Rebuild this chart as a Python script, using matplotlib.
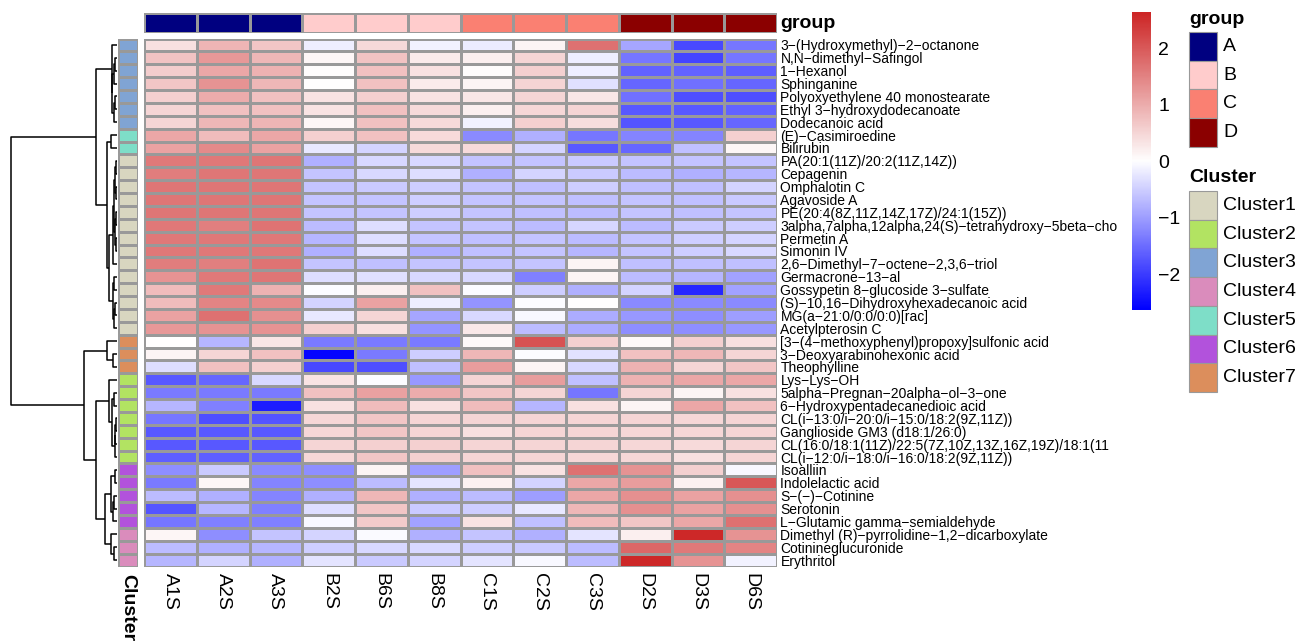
import matplotlib
matplotlib.use("Agg")
import matplotlib.pyplot as plt
from matplotlib.colors import LinearSegmentedColormap, Normalize, ListedColormap
from matplotlib.patches import Rectangle
import numpy as np

plt.rcParams['font.family'] = ['Liberation Sans', 'DejaVu Sans']

# ---------------- data ----------------
samples = ["A1S", "A2S", "A3S", "B2S", "B6S", "B8S",
           "C1S", "C2S", "C3S", "D2S", "D3S", "D6S"]
sample_group = ["A", "A", "A", "B", "B", "B", "C", "C", "C", "D", "D", "D"]

metabolites = [
    "3-(Hydroxymethyl)-2-octanone", "N,N-dimethyl-Safingol", "1-Hexanol", "Sphinganine",
    "Polyoxyethylene 40 monostearate", "Ethyl 3-hydroxydodecanoate", "Dodecanoic acid",
    "(E)-Casimiroedine", "Bilirubin", "PA(20:1(11Z)/20:2(11Z,14Z))", "Cepagenin",
    "Omphalotin C", "Agavoside A", "PE(20:4(8Z,11Z,14Z,17Z)/24:1(15Z))",
    "3alpha,7alpha,12alpha,24(S)-tetrahydroxy-5beta-cho", "Permetin A", "Simonin IV",
    "2,6-Dimethyl-7-octene-2,3,6-triol", "Germacrone-13-al",
    "Gossypetin 8-glucoside 3-sulfate", "(S)-10,16-Dihydroxyhexadecanoic acid",
    "MG(a-21:0/0:0/0:0)[rac]", "Acetylpterosin C",
    "[3-(4-methoxyphenyl)propoxy]sulfonic acid", "3-Deoxyarabinohexonic acid",
    "Theophylline", "Lys-Lys-OH", "5alpha-Pregnan-20alpha-ol-3-one",
    "6-Hydroxypentadecanedioic acid", "CL(i-13:0/i-20:0/i-15:0/18:2(9Z,11Z))",
    "Ganglioside GM3 (d18:1/26:0)", "CL(16:0/18:1(11Z)/22:5(7Z,10Z,13Z,16Z,19Z)/18:1(11",
    "CL(i-12:0/i-18:0/i-16:0/18:2(9Z,11Z))", "Isoalliin", "Indolelactic acid",
    "S-(-)-Cotinine", "Serotonin", "L-Glutamic gamma-semialdehyde",
    "Dimethyl (R)-pyrrolidine-1,2-dicarboxylate", "Cotinineglucuronide", "Erythritol",
]
metabolite_cluster = ([3] * 7 + [5] * 2 + [1] * 14 + [7] * 3 + [2] * 7 + [6] * 5 + [4] * 3)

zscores = [
    [0.43, 0.94, 0.73, -0.13, 0.51, -0.09, -0.15, 0.18, 1.77, -0.87, -1.84, -1.38],
    [0.77, 1.28, 0.92, 0.15, 0.77, 0.28, 0.24, 0.55, -0.13, -1.38, -1.89, -1.38],
    [0.65, 1.10, 0.98, 0.08, 0.79, 0.40, 0.08, 0.61, -0.13, -1.58, -1.58, -1.63],
    [0.73, 1.34, 0.92, 0.04, 0.79, 0.28, 0.18, 0.57, -0.28, -1.53, -1.43, -1.53],
    [0.61, 1.04, 0.79, 0.37, 0.61, 0.37, 0.33, 0.55, 0.33, -1.43, -1.79, -1.79],
    [0.55, 0.79, 0.79, 0.37, 0.79, 0.49, 0.24, 0.52, 0.57, -1.68, -1.68, -1.58],
    [0.55, 0.92, 0.94, 0.15, 0.79, 0.49, -0.10, 0.61, 0.45, -1.73, -1.68, -1.53],
    [1.10, 0.85, 1.10, 0.61, 0.79, 0.49, -1.17, -0.77, -1.38, -1.22, -1.22, 0.61],
    [1.16, 1.46, 1.16, -0.19, -0.41, 0.49, 0.49, -0.41, -1.68, -1.53, -0.61, 0.15],
    [1.65, 1.67, 1.71, -0.77, -0.36, -0.36, -0.56, -0.56, -0.51, -0.56, -0.56, -0.56],
    [1.62, 1.71, 1.71, -0.56, -0.36, -0.31, -0.77, -0.41, -0.51, -0.66, -0.77, -0.71],
    [1.71, 1.71, 1.71, -0.56, -0.51, -0.46, -0.56, -0.61, -0.46, -0.61, -0.61, -0.41],
    [1.71, 1.71, 1.71, -0.56, -0.56, -0.46, -0.56, -0.56, -0.61, -0.56, -0.61, -0.51],
    [1.70, 1.70, 1.70, -0.56, -0.56, -0.46, -0.56, -0.61, -0.66, -0.56, -0.61, -0.56],
    [1.67, 1.59, 1.74, -0.66, -0.31, -0.56, -0.56, -0.66, -0.38, -0.66, -0.51, -0.46],
    [1.67, 1.67, 1.67, -0.71, -0.31, -0.56, -0.61, -0.56, -0.66, -0.56, -0.46, -0.41],
    [1.67, 1.67, 1.67, -0.77, -0.31, -0.77, -0.61, -0.56, -0.71, -0.56, -0.46, -0.36],
    [1.62, 1.59, 1.74, -0.56, -0.61, -0.56, -0.56, -0.56, 0.18, -0.61, -0.61, -0.61],
    [1.34, 1.65, 1.71, -0.31, -0.28, -0.36, -0.36, -1.28, 0.18, -0.66, -0.71, -0.92],
    [0.85, 1.65, 0.98, 0.00, 0.24, 0.79, 0.00, -0.46, -0.77, -0.41, -2.19, -0.92],
    [0.85, 1.53, 1.46, -0.41, 1.16, -0.13, -1.07, 0.00, 0.06, -1.17, -1.17, -1.17],
    [1.16, 1.77, 1.40, -0.20, 0.55, -0.87, -0.36, -0.03, -0.82, -1.02, -1.12, -0.97],
    [1.28, 1.34, 1.34, 0.61, 0.43, -1.07, 0.31, -0.66, -0.82, -1.12, -1.12, -1.02],
    [0.06, -0.71, 0.33, -1.33, -1.33, -1.33, 0.12, 2.14, 0.61, 0.12, 0.61, 0.43],
    [0.18, 0.55, 0.79, -2.55, -1.33, -0.46, 0.92, 0.00, -0.26, 0.79, 0.92, 0.55],
    [-0.31, 0.79, 0.61, -1.84, -1.79, -0.61, 1.22, 0.18, -0.36, 0.98, 0.55, 0.73],
    [-1.68, -1.53, -0.36, 0.37, 0.00, -1.02, 0.55, 1.22, -0.61, 0.98, 1.10, 1.10],
    [-1.33, -1.33, -1.33, 0.79, 1.18, 1.04, 0.73, 0.55, -1.38, 0.55, 0.18, 0.40],
    [-0.71, -1.28, -2.30, 0.40, 0.85, 0.43, 0.85, -0.71, 0.43, 0.18, 1.10, 0.79],
    [-1.38, -1.79, -1.73, 0.52, 0.73, 0.55, 0.55, 0.55, 0.55, 0.55, 0.52, 0.55],
    [-1.68, -1.68, -1.68, 0.52, 0.73, 0.55, 0.43, 0.55, 0.55, 0.52, 0.52, 0.55],
    [-1.68, -1.68, -1.68, 0.55, 0.61, 0.61, 0.55, 0.55, 0.55, 0.52, 0.49, 0.55],
    [-1.63, -1.63, -1.58, 0.52, 0.73, 0.61, 0.55, 0.55, 0.52, 0.52, 0.43, 0.55],
    [-1.12, -0.51, -1.17, -1.12, 0.18, -0.97, 0.79, 0.37, 1.77, 1.34, 0.61, -0.03],
    [-1.33, 0.15, -1.22, -1.12, -0.66, -0.24, 0.21, -0.41, 1.10, 1.22, 0.21, 2.07],
    [-0.66, -0.77, -1.22, -0.77, 0.92, -0.77, -0.66, -0.97, 1.10, 1.40, 1.16, 1.40],
    [-1.73, -0.71, -1.28, -0.31, 0.73, -0.51, -0.46, -0.20, 0.92, 1.40, 1.16, 1.40],
    [-1.38, -1.28, -1.28, -0.03, 0.67, -0.92, 0.37, -0.61, 0.85, 0.73, 1.10, 1.77],
    [0.15, -1.12, -0.56, -0.41, -0.02, -0.77, -0.56, -0.77, -0.24, 0.24, 2.65, 1.34],
    [-0.66, -0.77, -0.71, -0.46, -0.36, -0.36, -0.46, -0.51, -0.66, 1.89, 1.65, 1.53],
    [-0.71, -0.41, -0.77, -0.24, -0.51, -0.41, -0.24, -0.03, -0.66, 2.65, 1.34, -0.10],
]

# row dendrogram: merges (left, right, height); leaves are 0..40, new nodes 41..
row_linkage = [
    (1, 2, 0.2), (41, 3, 0.3), (4, 5, 0.2), (43, 6, 0.3), (42, 44, 0.45), (0, 45, 0.5),
    (7, 8, 0.55),
    (9, 10, 0.1), (11, 12, 0.08), (48, 49, 0.15), (13, 14, 0.1), (15, 16, 0.1),
    (51, 52, 0.15), (50, 53, 0.25), (54, 17, 0.35), (18, 19, 0.3), (20, 21, 0.2),
    (57, 22, 0.3), (56, 58, 0.4), (55, 59, 0.75), (47, 60, 0.9), (46, 61, 1.97),
    (24, 25, 0.35), (23, 63, 0.9),
    (29, 30, 0.1), (65, 31, 0.15), (66, 32, 0.2), (27, 28, 0.3), (68, 67, 0.45),
    (26, 69, 0.8),
    (33, 34, 0.2), (35, 36, 0.25), (72, 37, 0.35), (71, 73, 0.6),
    (39, 40, 0.3), (38, 75, 0.6), (74, 76, 1.1),
    (70, 77, 1.97), (64, 78, 3.08), (62, 79, 10.0),
]

group_levels = ["A", "B", "C", "D"]
group_colors = ["#000080", "#FFCCCC", "#FA8072", "#8B0000"]
cluster_levels = [1, 2, 3, 4, 5, 6, 7]
cluster_colors = ["#D8D6C0", "#B2E362", "#80A4D4", "#DA8CBC", "#7EDEC8", "#B252DC", "#DC8E5C"]

value_min, value_max = -2.6, 2.68

# ---------------- figure ----------------
W, H = 1310, 641
fig = plt.figure(figsize=(W / 100, H / 100), dpi=100)
GRID = "#999999"
heat_cmap = LinearSegmentedColormap.from_list("bwr_fb", ["#0000FF", "#FFFFFF", "#CD2626"], N=256)
norm = Normalize(vmin=value_min, vmax=value_max)


def px_axes(x0, y0, x1, y1):
    return fig.add_axes([x0 / W, 1 - y1 / H, (x1 - x0) / W, (y1 - y0) / H])


data = np.array(zscores)
n_rows, n_cols = data.shape
top, bottom = 38.5, 566.5
hx0, hx1 = 144, 777

# main heatmap
ax = px_axes(hx0, top, hx1, bottom)
ax.pcolormesh(np.arange(n_cols + 1), np.arange(n_rows + 1), data, cmap=heat_cmap, norm=norm,
              edgecolors=GRID, linewidth=0.8)
ax.set_xlim(0, n_cols)
ax.set_ylim(n_rows, 0)
ax.set_xticks([])
ax.yaxis.tick_right()
ax.set_yticks(np.arange(n_rows) + 0.5)
ax.set_yticklabels([m.replace("-", "\u2212") for m in metabolites], fontsize=10)
ax.tick_params(axis="y", length=0, pad=2.5)
for s in ax.spines.values():
    s.set_visible(False)

# column group bar
axg = px_axes(hx0, 13, hx1, 33)
gidx = np.array([[group_levels.index(g) for g in sample_group]])
axg.pcolormesh(np.arange(n_cols + 1), [0, 1], gidx, cmap=ListedColormap(group_colors),
               vmin=-0.5, vmax=len(group_levels) - 0.5, edgecolors=GRID, linewidth=0.8)
axg.set_xlim(0, n_cols)
axg.set_ylim(1, 0)
axg.axis("off")

# row cluster bar
axc = px_axes(118, top, 138, bottom)
cidx = np.array([[cluster_levels.index(c)] for c in metabolite_cluster])
axc.pcolormesh([0, 1], np.arange(n_rows + 1), cidx, cmap=ListedColormap(cluster_colors),
               vmin=-0.5, vmax=len(cluster_levels) - 0.5, edgecolors=GRID, linewidth=0.8)
axc.set_xlim(0, 1)
axc.set_ylim(n_rows, 0)
axc.axis("off")

# row dendrogram
axd = px_axes(11, top, 117, bottom)
pos = {i: i + 0.5 for i in range(n_rows)}
hgt = {i: 0.0 for i in range(n_rows)}
for k, (a, b, h) in enumerate(row_linkage):
    nid = n_rows + k
    axd.plot([hgt[a], h, h, hgt[b]], [pos[a], pos[a], pos[b], pos[b]],
             color="black", lw=1.1, solid_capstyle="butt", clip_on=False)
    pos[nid] = (pos[a] + pos[b]) / 2
    hgt[nid] = h
root_h = row_linkage[-1][2]
axd.set_xlim(root_h, 0)
axd.set_ylim(n_rows, 0)
axd.axis("off")

# colour key
axk = px_axes(1132, 12, 1151, 310)
grad = np.linspace(value_max, value_min, 300).reshape(-1, 1)
axk.imshow(grad, aspect="auto", cmap=heat_cmap, norm=norm,
           extent=[0, 1, value_min, value_max], origin="upper")
axk.set_xlim(0, 1)
axk.set_ylim(value_min, value_max)
axk.axis("off")

# overlay in pixel coordinates for texts and legends
ov = fig.add_axes([0, 0, 1, 1], facecolor="none")
ov.set_xlim(0, W)
ov.set_ylim(H, 0)
ov.axis("off")

key_top, key_bot = 12, 310
for v in [-2, -1, 0, 1, 2]:
    y = key_bot - (v - value_min) / (value_max - value_min) * (key_bot - key_top)
    ov.text(1158, y, f"{v}".replace("-", "\u2212"), fontsize=14, va="center", ha="left")

col_w = (hx1 - hx0) / n_cols
for j, s in enumerate(samples):
    ov.text(hx0 + col_w * (j + 0.5), 573, s, rotation=270, fontsize=14, ha="center", va="top")
ov.text(128, 574, "Cluster", rotation=270, fontsize=14, fontweight="bold", ha="center", va="top")
ov.text(780, 23, "group", fontsize=14, fontweight="bold", ha="left", va="center")

# legends
box_h = 28.7
ov.text(1189, 20, "group", fontsize=14, fontweight="bold", ha="left", va="center")
for i, (lab, colr) in enumerate(zip(group_levels, group_colors)):
    y0 = 32 + box_h * i
    ov.add_patch(Rectangle((1189, y0), 28, box_h, facecolor=colr, edgecolor=GRID, lw=0.8))
    ov.text(1223, y0 + box_h / 2, lab, fontsize=14, ha="left", va="center")

ov.text(1189, 178, "Cluster", fontsize=14, fontweight="bold", ha="left", va="center")
for i, (lab, colr) in enumerate(zip(cluster_levels, cluster_colors)):
    y0 = 191 + box_h * i
    ov.add_patch(Rectangle((1189, y0), 28, box_h, facecolor=colr, edgecolor=GRID, lw=0.8))
    ov.text(1223, y0 + box_h / 2, f"Cluster{lab}", fontsize=14, ha="left", va="center")

fig.savefig("out.png", dpi=100)
